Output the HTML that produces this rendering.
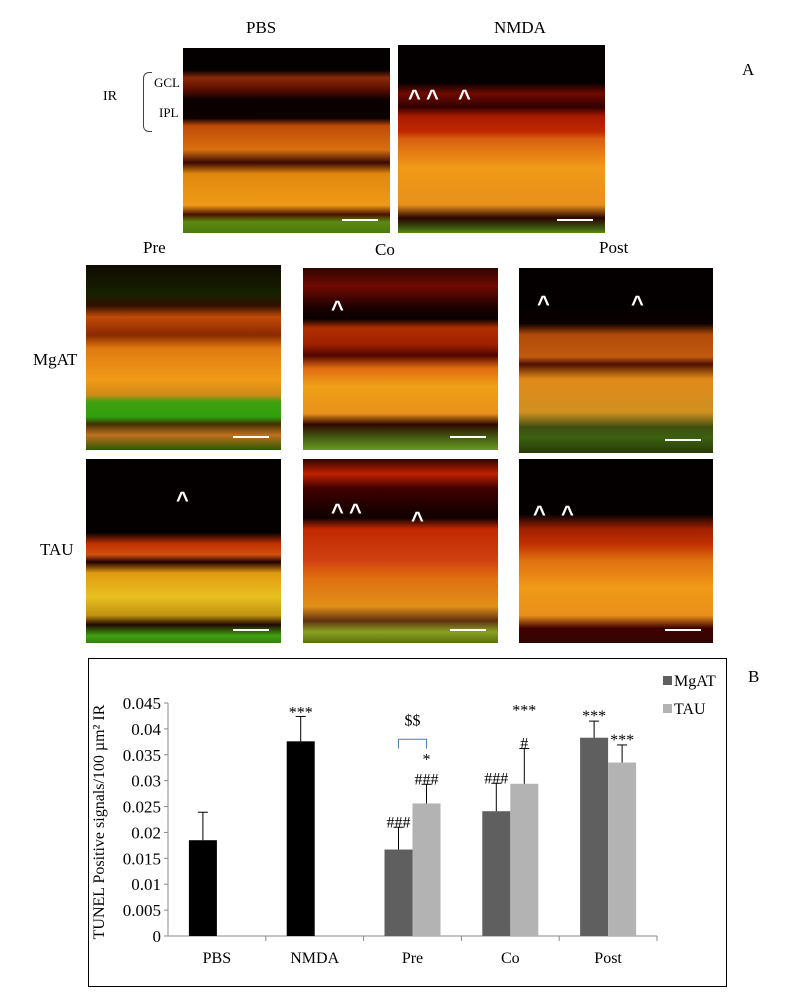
<!DOCTYPE html>
<html><head><meta charset="utf-8"><style>
body{margin:0;width:789px;height:1003px;background:#fff;position:relative;overflow:hidden;font-family:"Liberation Serif",serif;color:#000}
.t{position:absolute;font-size:17px;white-space:nowrap}
.p{position:absolute;overflow:hidden}
.sb{position:absolute;height:2px;width:36px;background:#fff}
.ar{position:absolute;color:#fff;font-size:22px;font-weight:bold;font-family:"Liberation Sans",sans-serif;line-height:1}
</style></head><body>
<div class="t" style="left:246px;top:18px">PBS</div>
<div class="t" style="left:494px;top:18px">NMDA</div>
<div class="t" style="left:742px;top:60px">A</div>
<div class="t" style="left:103px;top:89px;font-size:14px">IR</div>
<div style="position:absolute;left:143px;top:72px;width:8px;height:58px;border:1.5px solid #444;border-right:none;border-radius:6px 0 0 6px"></div>
<div class="t" style="left:154px;top:75px;font-size:13px">GCL</div>
<div class="t" style="left:159px;top:105px;font-size:13px">IPL</div>
<div class="t" style="left:143px;top:238px">Pre</div>
<div class="t" style="left:375px;top:240px">Co</div>
<div class="t" style="left:599px;top:238px">Post</div>
<div class="t" style="left:33px;top:350px">MgAT</div>
<div class="t" style="left:40px;top:540px">TAU</div>
<div id="panels"></div>

<div style="position:absolute;left:88px;top:658px;width:637px;height:327px;border:1px solid #000"></div>
<div class="t" style="left:748px;top:667px">B</div>
<svg id="chart" width="789" height="1003" style="position:absolute;left:0;top:0"></svg>

<script>
const panels=[
 {n:'pbs',x:183,y:48,w:207,h:185,s:[['#050000',0],['#050000',12],['#8a2a0a',16],['#601000',22],['#0a0000',28],['#0c0100',38],['#c04a08',42],['#d8700e',55],['#3a0800',62],['#e0880e',68],['#f09a18',85],['#4a1000',90],['#5c8a10',94],['#4a7a10',100]],a:[]},
 {n:'nmda',x:398,y:45,w:207,h:188,s:[['#050000',0],['#050000',20],['#700a00',26],['#300000',33],['#a81a00',38],['#c02800',46],['#d86010',50],['#f09a18',65],['#e8901a',85],['#2a0500',92],['#3a5010',97],['#5a8a10',100]],a:[[10,42],[28,42],[60,42]]},
 {n:'pre-mgat',x:86,y:265,w:195,h:185,s:[['#100a00',0],['#152000',15],['#301000',22],['#c04a08',28],['#8a2a00',38],['#e07a10',45],['#f09a18',62],['#d08a18',70],['#40a010',74],['#30a010',82],['#403000',86],['#c07020',92],['#2a5a00',100]],a:[]},
 {n:'co-mgat',x:303,y:268,w:195,h:182,s:[['#300500',0],['#700a00',10],['#1a0000',22],['#0a0000',28],['#b03000',33],['#a02000',42],['#500500',48],['#e06a10',55],['#f0a018',65],['#e8901a',80],['#300800',86],['#405010',92],['#6a9a20',100]],a:[[28,30]]},
 {n:'post-mgat',x:519,y:268,w:194,h:185,s:[['#050000',0],['#050000',22],['#0a0000',30],['#b04a08',36],['#c05a10',48],['#501000',52],['#e08a18',60],['#d09020',78],['#405010',86],['#3a6010',92],['#2a3a08',100]],a:[[18,25],[112,25]]},
 {n:'pre-tau',x:86,y:459,w:195,h:184,s:[['#050000',0],['#050000',40],['#c03000',46],['#d05010',52],['#200000',56],['#e09a10',62],['#e8c020',75],['#c09010',85],['#200800',90],['#40a010',96],['#308010',100]],a:[[90,30]]},
 {n:'co-tau',x:303,y:459,w:195,h:184,s:[['#300500',0],['#c02000',8],['#400000',16],['#200000',26],['#100000',32],['#c02800',38],['#d04010',55],['#e07010',65],['#e09018',80],['#603010',88],['#8aa020',94],['#5a7010',100]],a:[[28,42],[46,42],[108,50]]},
 {n:'post-tau',x:519,y:459,w:194,h:184,s:[['#050000',0],['#050000',30],['#a02000',38],['#c03000',46],['#e07010',55],['#f09a18',70],['#e8901a',85],['#400000',92],['#300500',100]],a:[[14,44],[42,44]]}
];
const pc=document.getElementById('panels');
panels.forEach(p=>{
 const d=document.createElement('div');d.className='p';
 
 
 d.style.cssText=`left:${p.x}px;top:${p.y}px;width:${p.w}px;height:${p.h}px;background:linear-gradient(to bottom,${p.s.map(s=>s[0]+' '+s[1]+'%').join(',')})`;
 const sb=document.createElement('div');sb.className='sb';
 
 
 sb.style.left=(p.w-48)+'px';sb.style.top=(p.h-14)+'px';d.appendChild(sb);
 p.a.forEach(a=>{const e=document.createElement('div');e.className='ar';
  
  
  e.textContent='^';e.style.left=a[0]+'px';e.style.top=a[1]+'px';d.appendChild(e);});
 pc.appendChild(d);
});

const categories=['PBS','NMDA','Pre','Co','Post'];
const mgatVals=[0.0185,0.0376,0.0167,0.0241,0.0383];
const mgatErr=[0.0054,0.0048,0.0043,0.0054,0.0032];
const tauVals=[null,null,0.0256,0.0294,0.0335];
const tauErr=[null,null,0.0037,0.0068,0.0034];
const yTicks=[0,0.005,0.01,0.015,0.02,0.025,0.03,0.035,0.04,0.045];
const svg=document.getElementById('chart');const NS='http://www.w3.org/2000/svg';
const X0=168,X1=657,Y0=936,Y1=703;
const y=v=>Y0-(v/0.045)*(Y0-Y1);
const cw=(X1-X0)/categories.length;
const cx=i=>X0+cw*(i+0.5);
function el(t,a,name){const e=document.createElementNS(NS,t);for(const k in a)e.setAttribute(k,a[k]);
 
 
 svg.appendChild(e);return e;}
function txt(s,x,yy,name,sz,anchor){const e=el('text',{x:x,y:yy,'font-size':sz||14,'text-anchor':anchor||'middle','font-family':'Liberation Serif, serif'},name);e.textContent=s;return e;}
el('line',{x1:X0,y1:Y1,x2:X0,y2:Y0,stroke:'#888'},'y-axis');
el('line',{x1:X0,y1:Y0,x2:X1,y2:Y0,stroke:'#888'},'x-axis');
yTicks.forEach(v=>{el('line',{x1:X0-4,y1:y(v),x2:X0,y2:y(v),stroke:'#888'},'y-tick');
 txt(String(v),X0-7,y(v)+6,'y-tick-label',17,'end');});
categories.forEach((c,i)=>{el('line',{x1:X0+cw*(i+1),y1:Y0,x2:X0+cw*(i+1),y2:Y0+5,stroke:'#888'},'x-tick');
 txt(c,cx(i),Y0+27,'x-label-'+c.toLowerCase(),16);});
const BW=28;
function bar(i,v,e,off,col,name){if(v==null)return;const x=cx(i)+off;
 el('rect',{x:x,y:y(v),width:BW,height:Y0-y(v),fill:col},name);
 const mx=x+BW/2;el('line',{x1:mx,y1:y(v),x2:mx,y2:y(v+e),stroke:'#000'},'error-bar');
 el('line',{x1:mx-5,y1:y(v+e),x2:mx+5,y2:y(v+e),stroke:'#000'},'error-cap');}
categories.forEach((c,i)=>{const single=tauVals[i]==null;
 bar(i,mgatVals[i],mgatErr[i],-BW,single?'#000':'#5f5f5f','bar-mgat-'+c.toLowerCase());
 bar(i,tauVals[i],tauErr[i],0,'#b3b3b3','bar-tau-'+c.toLowerCase());});
const annots=[['***',cx(1)-14,y(0.0424)-4],['###',cx(2)-14,y(0.021)-5],['###',cx(2)+14,y(0.0293)-5],['*',cx(2)+14,y(0.0293)-25],['$$',cx(2),y(0.0405)-6],
 ['###',cx(3)-14,y(0.0295)-5],['#',cx(3)+14,y(0.0362)-5],['***',cx(3)+14,y(0.0362)-38],['***',cx(4)-14,y(0.0415)-5],['***',cx(4)+14,y(0.0369)-5]];
annots.forEach(a=>txt(a[0],a[1],a[2]+5,'significance-mark',16));
el('path',{d:`M${cx(2)-14} ${y(0.0362)} V${y(0.038)} H${cx(2)+14} V${y(0.0362)}`,fill:'none',stroke:'#4a7fc0'},'comparison-bracket');
const yt=txt('TUNEL  Positive   signals/100   µm² IR',0,0,'y-axis-title',16);yt.setAttribute('transform','translate(104,822) rotate(-90)');yt.setAttribute('text-anchor','middle');
el('rect',{x:663,y:676,width:9,height:9,fill:'#5f5f5f'},'legend-swatch-mgat');
txt('MgAT',674,686,'legend-mgat',16,'start');
el('rect',{x:663,y:704,width:9,height:9,fill:'#b3b3b3'},'legend-swatch-tau');
txt('TAU',674,714,'legend-tau',16,'start');
</script>
</body></html>
